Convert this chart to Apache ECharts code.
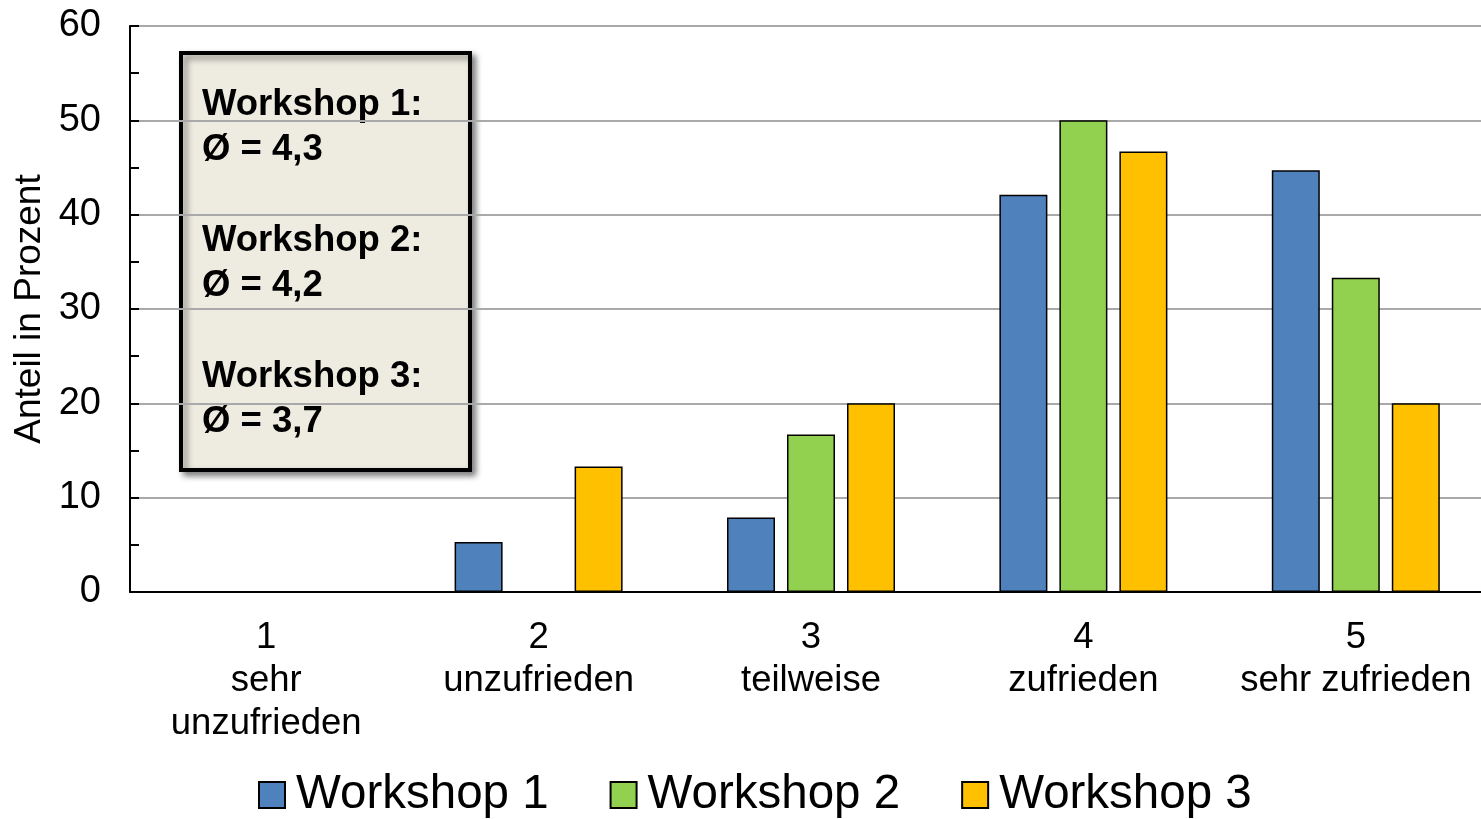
<!DOCTYPE html>
<html><head><meta charset="utf-8">
<script src="https://cdn.jsdelivr.net/npm/echarts@6/dist/echarts.min.js"></script>
<style>html,body{margin:0;padding:0;background:#fff}#c{width:1481px;height:819px}</style>
</head><body><div id="c"></div>
<script>
const categories = ['1\nsehr\nunzufrieden', '2\nunzufrieden', '3\nteilweise', '4\nzufrieden', '5\nsehr zufrieden'];
const seriesNames = ['Workshop 1', 'Workshop 2', 'Workshop 3'];
const workshop1 = [0, 5.3, 7.9, 42.1, 44.7];
const workshop2 = [0, 0, 16.7, 50, 33.3];
const workshop3 = [0, 13.3, 20, 46.7, 20];
const averages = ['4,3', '4,2', '3,7'];
const yTicks = { min: 0, max: 60, step: 10 };
const axisTitle = 'Anteil in Prozent';
const colors = ['#4F81BD', '#92D050', '#FFC000'];

const FONT = '"Liberation Sans", Arial, sans-serif';
const seriesData = [workshop1, workshop2, workshop3];
const boxText = seriesNames.map((n, i) => n + ':\nØ = ' + averages[i]).join('\n\n');

const chart = echarts.init(document.getElementById('c'), null, { renderer: 'canvas' });
chart.setOption({
  animation: false,
  backgroundColor: '#ffffff',
  textStyle: { fontFamily: FONT },
  grid: { left: 130, right: -11, top: 26, bottom: 227, containLabel: false, outerBoundsMode: 'none' },
  legend: {
    data: seriesNames,
    left: 258, top: 770, padding: 0,
    icon: 'rect', itemWidth: 26, itemHeight: 26, itemGap: 61,
    textStyle: { fontFamily: FONT, fontSize: 47.5, color: '#000', lineHeight: 50, padding: [0, 0, 0, 6] }
  },
  xAxis: {
    type: 'category',
    data: categories,
    axisLine: { show: true, lineStyle: { color: '#000', width: 2 } },
    axisTick: { show: false },
    axisLabel: { interval: 0, fontFamily: FONT, fontSize: 36.5, lineHeight: 43, color: '#000', margin: 24 }
  },
  yAxis: {
    type: 'value', min: yTicks.min, max: yTicks.max, interval: yTicks.step,
    name: axisTitle, nameLocation: 'middle', nameGap: 80,
    nameTextStyle: { fontFamily: FONT, fontSize: 37, color: '#000' },
    axisLine: { show: true, lineStyle: { color: '#000', width: 2 } },
    axisTick: { show: true, inside: true, length: 9, lineStyle: { color: '#000', width: 2 } },
    minorTick: { show: true, splitNumber: 2, length: 9, lineStyle: { color: '#000', width: 2 } },
    splitLine: { show: true, lineStyle: { color: '#A9A9A9', width: 2 } },
    axisLabel: { fontFamily: FONT, fontSize: 38, color: '#000', margin: 29 }
  },
  series: seriesNames.map((name, i) => ({
    name, type: 'bar', data: seriesData[i],
    barWidth: 48, barGap: '25%',
    itemStyle: { color: colors[i], borderColor: '#000', borderWidth: 1.5 }
  })),
  graphic: [{
    type: 'group', z: 100,
    children: [
      { type: 'rect', shape: { x: 181, y: 53, width: 289, height: 417 },
        style: { fill: '#EEECE1', stroke: '#000', lineWidth: 4,
                 shadowBlur: 6, shadowOffsetX: 4, shadowOffsetY: 4, shadowColor: 'rgba(0,0,0,0.45)' } },
      { type: 'text', x: 202, y: 82,
        style: { text: boxText, font: 'bold 36.5px ' + FONT, fill: '#000', lineHeight: 45.3 } }
    ]
  }]
});
</script></body></html>
